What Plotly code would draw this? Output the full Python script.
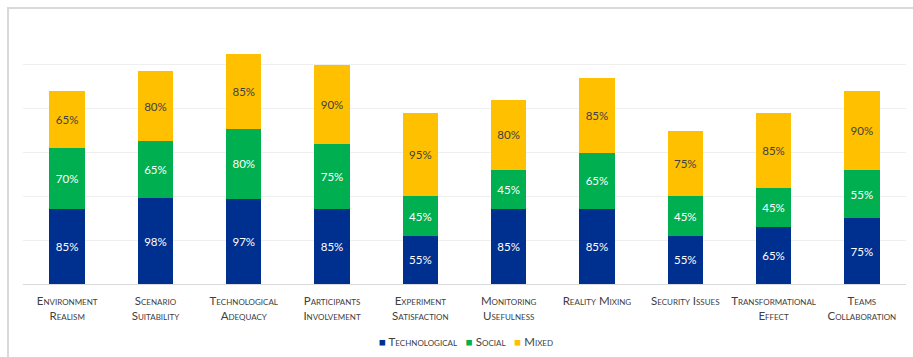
import plotly.graph_objects as go

# Evaluation criteria and the share of positive answers per dimension
categories = [
    "Environment<br>Realism", "Scenario<br>Suitability", "Technological<br>Adequacy",
    "Participants<br>Involvement", "Experiment<br>Satisfaction", "Monitoring<br>Usefulness",
    "Reality Mixing", "Security Issues", "Transformational<br>Effect", "Teams<br>Collaboration",
]
technological = [85, 98, 97, 85, 55, 85, 85, 55, 65, 75]
social = [70, 65, 80, 75, 45, 45, 65, 45, 45, 55]
mixed = [65, 80, 85, 90, 95, 80, 85, 75, 85, 90]

series = [
    ("Technological", technological, "#00308F", "white"),
    ("Social", social, "#00B050", "white"),
    ("Mixed", mixed, "#FFC000", "#404040"),
]

FONT = "Lato"

fig = go.Figure()
for name, vals, color, txtcolor in series:
    fig.add_trace(go.Bar(
        name=name, x=categories, y=vals,
        marker=dict(color=color, line=dict(width=0)),
        texttemplate="%{y}%", textposition="inside", insidetextanchor="middle",
        textfont=dict(family=FONT, size=11.5, color=txtcolor),
        showlegend=False,
    ))

# Compact legend row built as one annotation
legend_text = "   ".join(
    f"<span style='color:{c}'>■</span> {n}" for n, _, c, _ in series
)
fig.add_annotation(
    text=legend_text, xref="paper", yref="paper", x=0.502, y=-0.218,
    xanchor="center", yanchor="middle", showarrow=False,
    font=dict(family=FONT, size=11.5, color="#404040", variant="small-caps"),
)

# Light chart frame along the top and left edges
fig.add_shape(
    type="path", xref="paper", yref="paper",
    path="M -0.017,-0.29 L -0.017,1.049 L 1.02,1.049",
    line=dict(color="#d9d9d9", width=2),
)

fig.update_layout(
    barmode="stack", bargap=0.6,
    width=913, height=357,
    margin=dict(l=23, r=7, t=21, b=73),
    paper_bgcolor="white", plot_bgcolor="white",
    font=dict(family=FONT, color="#404040"),
    xaxis=dict(
        showline=True, linecolor="#d9d9d9", linewidth=1,
        tickfont=dict(family=FONT, size=11.5, color="#404040", variant="small-caps"),
        ticks="", ticklabelstandoff=6, fixedrange=True,
    ),
    yaxis=dict(
        range=[0, 300], tickvals=[50, 100, 150, 200, 250],
        showticklabels=False, showgrid=True, gridcolor="#efefef",
        zeroline=False, fixedrange=True,
    ),
)

fig.write_html("out.html")
